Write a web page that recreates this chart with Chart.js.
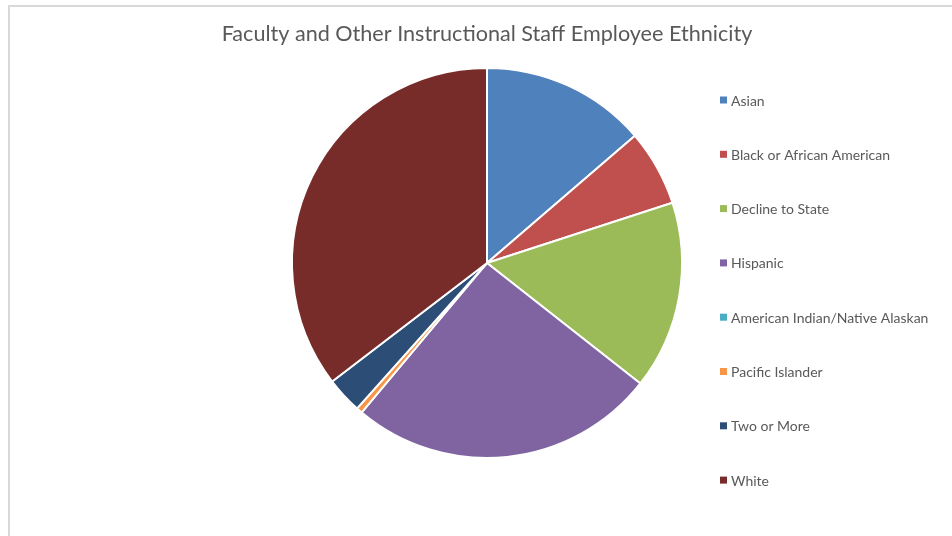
<!DOCTYPE html>
<html>
<head>
<meta charset="utf-8">
<script src="https://cdn.jsdelivr.net/npm/chart.js@4"></script>
<style>
  html, body { margin: 0; padding: 0; background: #fff; }
  #wrap { position: relative; width: 952px; height: 536px; }
  #frame { position: absolute; left: 8px; top: 5px; right: 0; bottom: 0;
           border-top: 2px solid #d9d9d9; border-left: 2px solid #d9d9d9; pointer-events: none; }
</style>
</head>
<body>
<div id="wrap">
  <canvas id="ethnicityChart" width="952" height="536"></canvas>
  <div id="frame"></div>
</div>
<script>
const chartTitle = "Faculty and Other Instructional Staff Employee Ethnicity";
const groups = [
  "Asian",
  "Black or African American",
  "Decline to State",
  "Hispanic",
  "American Indian/Native Alaskan",
  "Pacific Islander",
  "Two or More",
  "White"
];
// share of staff, percent
const shares = [13.7, 6.3, 15.6, 25.5, 0, 0.5, 3.0, 35.4];
const sliceColors = ["#4f81bd", "#c0504d", "#9bbb59", "#8064a2", "#4bacc6", "#f79646", "#2c4d75", "#772c2a"];

// legend down the right side, one row per group
const sideLegend = {
  id: "sideLegend",
  afterDraw(chart) {
    const ctx = chart.ctx;
    const x = 720, top = 100, step = 54.3;
    ctx.save();
    ctx.font = "14px Lato";
    ctx.textBaseline = "middle";
    chart.data.labels.forEach((label, i) => {
      const y = top + i * step;
      ctx.fillStyle = chart.data.datasets[0].backgroundColor[i];
      ctx.fillRect(x, y - 3.5, 7, 7);
      ctx.fillStyle = "#595959";
      ctx.fillText(label, x + 11, y + 1);
    });
    ctx.restore();
  }
};

new Chart(document.getElementById("ethnicityChart"), {
  type: "pie",
  data: {
    labels: groups,
    datasets: [{
      data: shares,
      backgroundColor: sliceColors,
      borderColor: "#ffffff",
      borderWidth: 2
    }]
  },
  options: {
    responsive: false,
    animation: false,
    layout: { padding: { top: 5, bottom: 77, left: 198, right: 176 } },
    plugins: {
      legend: { display: false },
      tooltip: { enabled: false },
      title: {
        display: true,
        text: chartTitle,
        color: "#595959",
        font: { family: "Lato", size: 21.6, weight: "normal" },
        padding: { top: 16, bottom: 20 }
      }
    }
  },
  plugins: [sideLegend]
});
</script>
</body>
</html>
